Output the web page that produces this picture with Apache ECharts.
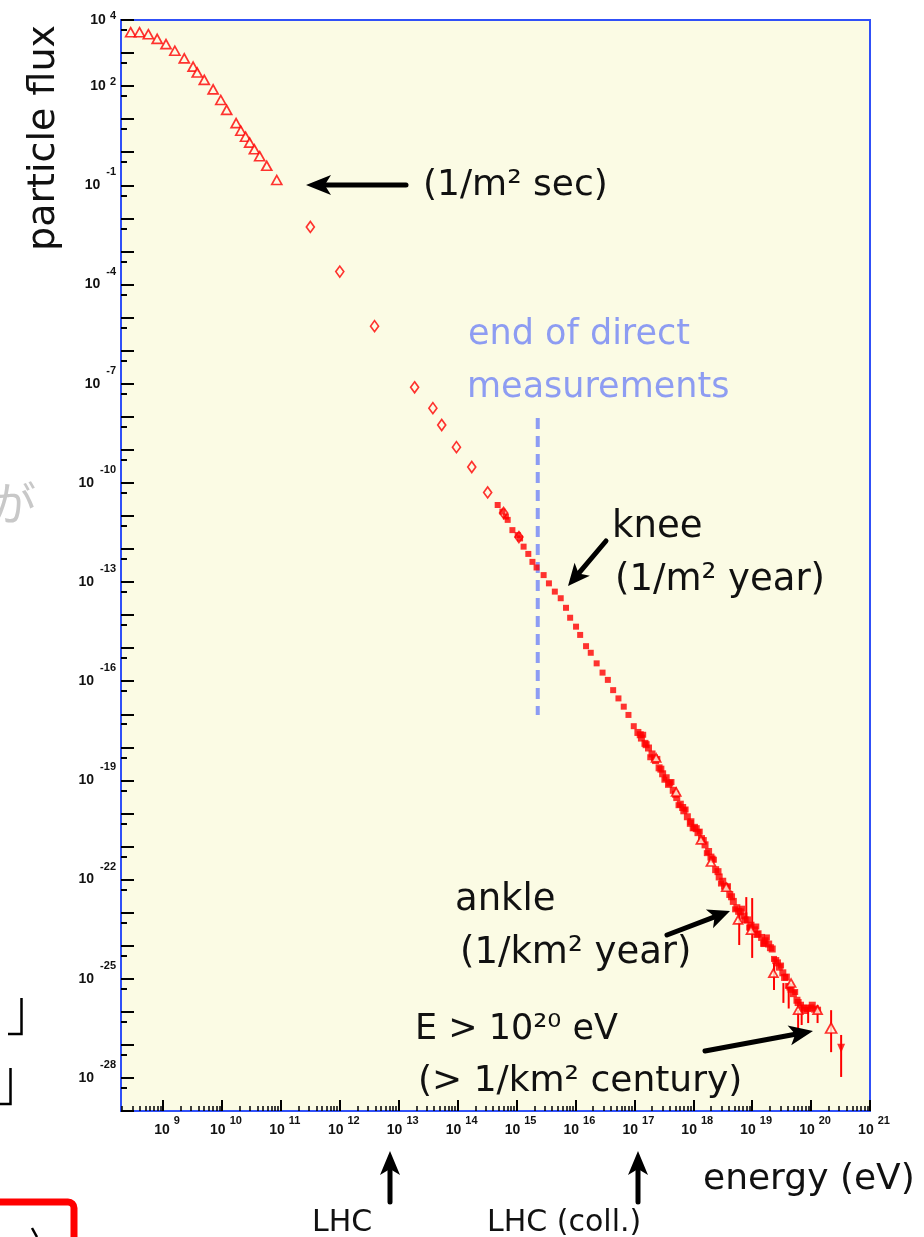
<!DOCTYPE html>
<html>
<head>
<meta charset="utf-8">
<script src="https://cdn.jsdelivr.net/npm/echarts@6/dist/echarts.min.js"></script>
<style>
  html, body { margin: 0; padding: 0; background: #ffffff; }
  #chart { width: 924px; height: 1237px; }
</style>
</head>
<body>
<div id="chart"></div>
<script>
// Cosmic-ray spectrum: all values are log10(energy / eV) and log10(flux)

// direct measurements (open triangles)
const directLogE = [8.45, 8.60, 8.75, 8.90, 9.05, 9.20, 9.36, 9.51, 9.58, 9.70, 9.85, 9.98,
                    10.08, 10.24, 10.32, 10.40, 10.47, 10.55, 10.64, 10.76, 10.93];
const directLogF = [3.63, 3.63, 3.57, 3.43, 3.27, 3.07, 2.84, 2.59, 2.41, 2.19, 1.90, 1.58,
                    1.28, 0.88, 0.65, 0.47, 0.29, 0.09, -0.12, -0.41, -0.84];

// balloon / satellite points (open diamonds)
const balloonLogE = [11.50, 12.00, 12.59, 13.27, 13.58, 13.73, 13.98, 14.24, 14.51, 14.78, 15.04];
const balloonLogF = [-2.26, -3.61, -5.26, -7.11, -7.74, -8.25, -8.92, -9.52, -10.29, -10.91, -11.64];

// air-shower array around the knee (small filled squares)
const kneeLogE = [14.68, 14.76, 14.82, 14.85, 14.93, 15.02, 15.06, 15.12, 15.20, 15.27, 15.34, 15.46,
                  15.55, 15.65, 15.75, 15.84, 15.91, 16.01, 16.08, 16.18, 16.26, 16.36, 16.46, 16.55,
                  16.64, 16.73, 16.82, 16.90, 16.99];
const kneeLogF = [-10.67, -10.87, -11.02, -11.12, -11.43, -11.58, -11.68, -11.93, -12.15, -12.39, -12.56, -12.79,
                  -13.04, -13.29, -13.49, -13.78, -14.08, -14.35, -14.60, -14.94, -15.14, -15.46, -15.74, -15.96,
                  -16.27, -16.52, -16.77, -17.02, -17.36];

// high-energy experiments, first group (filled squares)
const highALogE = [17.06, 17.12, 17.18, 17.24, 17.30, 17.36, 17.42, 17.48, 17.54, 17.60, 17.66, 17.72,
                   17.78, 17.84, 17.90, 17.96, 18.02, 18.08, 18.14, 18.20, 18.26, 18.32, 18.38, 18.44,
                   18.50, 18.56, 18.62, 18.68, 18.74, 18.80, 18.86, 18.92, 18.98, 19.04, 19.10, 19.16,
                   19.22, 19.28, 19.34, 19.40, 19.46, 19.52, 19.58, 19.64, 19.70, 19.76, 19.82, 19.88,
                   19.94, 20.00, 20.06, 20.11];
const highALogF = [-17.55, -17.72, -17.88, -18.02, -18.20, -18.40, -18.62, -18.80, -18.92, -19.08, -19.30, -19.52,
                   -19.72, -19.92, -20.10, -20.25, -20.42, -20.58, -20.76, -20.95, -21.15, -21.38, -21.70, -21.92,
                   -22.05, -22.25, -22.45, -22.66, -22.85, -22.98, -23.10, -23.22, -23.38, -23.52, -23.64, -23.75,
                   -23.85, -23.95, -24.10, -24.45, -24.65, -24.82, -24.95, -25.25, -25.45, -25.65, -25.80, -25.88,
                   -25.90, -25.88, -25.92, -25.95];

// high-energy experiments, second group (filled squares)
const highBLogE = [17.10, 17.20, 17.34, 17.45, 17.58, 17.70, 17.82, 17.95, 18.05, 18.17, 18.30, 18.42,
                   18.53, 18.65, 18.77, 18.88, 18.97, 19.08, 19.20, 19.31, 19.43, 19.55, 19.66, 19.78,
                   19.90, 20.02];
const highBLogF = [-17.62, -17.92, -18.32, -18.66, -19.12, -19.42, -19.82, -20.30, -20.46, -20.82, -21.32, -21.76,
                   -22.20, -22.52, -22.96, -23.22, -23.46, -23.66, -23.92, -24.06, -24.52, -24.96, -25.32, -25.72,
                   -25.96, -25.80];

// high-energy experiments, third group (filled squares, scattered either side)
const highDLogE = [17.15, 17.27, 17.39, 17.51, 17.63, 17.75, 17.87, 17.99, 18.11, 18.23, 18.35, 18.47,
                   18.59, 18.71, 18.83, 18.95, 19.07, 19.19, 19.25, 19.37, 19.49, 19.61, 19.73];
const highDLogF = [-17.62, -18.30, -18.35, -18.98, -19.05, -19.75, -19.88, -20.45, -20.55, -21.20, -21.40, -22.12,
                   -22.20, -22.90, -22.88, -23.45, -23.42, -23.95, -23.75, -24.40, -24.60, -25.22, -25.40];

// high-energy experiments, fourth group (open triangles)
const highCLogE = [17.37, 17.71, 18.13, 18.30, 18.56, 18.76, 18.98, 19.36, 19.66, 19.78, 20.11];
const highCLogF = [-18.32, -19.35, -20.80, -21.47, -22.23, -23.22, -23.53, -24.83, -25.13, -25.95, -25.95];

// highest-energy points
const topTriLogE = [20.34];
const topTriLogF = [-26.49];
const limitLogE = [20.51];
const limitLogF = [-27.10];

// error bars: [log10 E, low log10 flux, high log10 flux]
const errorBars = [
  [18.78, -23.98, -23.01], [18.90, -23.13, -22.53], [19.00, -24.37, -22.56],
  [19.37, -25.34, -24.52], [19.53, -25.73, -25.13], [19.62, -25.90, -25.20],
  [19.78, -26.49, -25.95], [19.84, -26.40, -25.80], [19.95, -26.34, -25.85],
  [20.11, -26.34, -25.79], [20.34, -27.22, -25.95], [20.51, -27.97, -26.70]
];

// end of direct measurements
const directEndLogE = 15.36;
const directEndLogF = [-8.04, -17.02];

// axis ranges and labelled decades
const xRange = [8.286, 21];
const yRange = [-29, 4];
const xLabelExps = [9, 10, 11, 12, 13, 14, 15, 16, 17, 18, 19, 20, 21];
const yLabelExps = [4, 2, -1, -4, -7, -10, -13, -16, -19, -22, -25, -28];

const RED = '#ff0000';
const BLUE_TEXT = '#8d9cf2';
const HAND = '"DejaVu Sans", sans-serif';
const TICK_FONT = '"Liberation Sans", Arial, sans-serif';

const zip = (a, b) => a.map((v, i) => [v, b[i]]);

// tick positions on the log10 axes
const xMajorTicks = [];
for (let d = 9; d <= 21; d++) xMajorTicks.push(d);
const xMinorTicks = [];
for (let d = 8; d <= 20; d++) {
  for (let m = 2; m <= 9; m++) {
    const v = d + Math.log10(m);
    if (v >= xRange[0] && v <= xRange[1]) xMinorTicks.push(+v.toFixed(4));
  }
}
const yMajorTicks = [];
for (let d = yRange[0]; d <= yRange[1]; d++) yMajorTicks.push(d);
const yMinorTicks = [];
for (let d = yRange[0]; d < yRange[1]; d++) yMinorTicks.push(+(d + Math.log10(5)).toFixed(4));

const labelRich = {
  s: { width: 8 },
  b: { fontFamily: TICK_FONT, fontWeight: 'bold', fontSize: 14, color: '#111' },
  ex: { fontFamily: TICK_FONT, fontWeight: 'bold', fontSize: 11, color: '#111', padding: [0, 0, 20, 4] },
  ey: { fontFamily: TICK_FONT, fontWeight: 'bold', fontSize: 11, color: '#111', padding: [0, 0, 26, 6] },
  ey2: { fontFamily: TICK_FONT, fontWeight: 'bold', fontSize: 11, color: '#111', padding: [0, 0, 8, 4] }
};

function arrow(x1, y1, x2, y2, width, headLen, headHalf) {
  const dx = x2 - x1, dy = y2 - y1;
  const len = Math.sqrt(dx * dx + dy * dy);
  const ux = dx / len, uy = dy / len;
  const px = -uy, py = ux;
  const bx = x2 - ux * headLen, by = y2 - uy * headLen;
  const nx = x2 - ux * headLen * 0.75, ny = y2 - uy * headLen * 0.75;
  return [
    { type: 'line', shape: { x1: x1, y1: y1, x2: nx, y2: ny }, style: { stroke: '#000', lineWidth: width, lineCap: 'round' }, z: 100 },
    { type: 'polygon', shape: { points: [[x2, y2], [bx + px * headHalf, by + py * headHalf], [nx, ny], [bx - px * headHalf, by - py * headHalf]] },
      style: { fill: '#000' }, z: 100 }
  ];
}

function note(text, x, y, size, color) {
  return {
    type: 'text', x: x, y: y, z: 100,
    style: { text: text, font: 'normal ' + size + 'px ' + HAND, fill: color || '#111', align: 'left', verticalAlign: 'middle' }
  };
}

const graphics = [].concat(
  arrow(406, 185, 306, 185, 5, 25, 10),
  arrow(606, 541, 568, 586, 5, 22, 10),
  arrow(667, 935, 730, 911, 5, 22, 10),
  arrow(705, 1051, 813, 1031, 5, 24, 10),
  arrow(390, 1202, 390, 1151, 5, 24, 10),
  arrow(638, 1202, 638, 1151, 5, 24, 10),
  [
    note('(1/m² sec)', 423, 186, 36),
    note('end of direct', 468, 335, 35, BLUE_TEXT),
    note('measurements', 467, 388, 35, BLUE_TEXT),
    note('knee', 612, 527, 37),
    note('(1/m² year)', 615, 580, 37),
    note('ankle', 455, 900, 37),
    note('(1/km² year)', 460, 953, 37),
    note('E > 10²⁰ eV', 415, 1030, 35),
    note('(> 1/km² century)', 418, 1082, 36),
    note('energy (eV)', 703, 1180, 36),
    note('LHC', 312, 1223, 30),
    note('LHC (coll.)', 487, 1223, 30),
    {
      type: 'text', x: 44, y: 138, rotation: Math.PI / 2, z: 100,
      style: { text: 'particle flux', font: 'normal 38px ' + HAND, fill: '#111', align: 'center', verticalAlign: 'middle' }
    },
    // leftovers of the neighbouring slide
    {
      type: 'text', x: -10, y: 503, z: 100,
      style: { text: 'が', font: 'normal 46px "Noto Sans CJK JP", sans-serif', fill: '#c8c8c8', align: 'left', verticalAlign: 'middle' }
    },
    { type: 'polyline', shape: { points: [[21.5, 998], [21.5, 1034], [8, 1034]] }, style: { stroke: '#000', lineWidth: 2.5, fill: null }, z: 100 },
    { type: 'polyline', shape: { points: [[10.5, 1068], [10.5, 1104], [0, 1104]] }, style: { stroke: '#000', lineWidth: 2.5, fill: null }, z: 100 },
    { type: 'rect', shape: { x: -10, y: 1202, width: 84, height: 60, r: 6 }, style: { stroke: '#ff0000', lineWidth: 7, fill: null }, z: 100 },
    { type: 'line', shape: { x1: 32, y1: 1228, x2: 37, y2: 1237 }, style: { stroke: '#000', lineWidth: 2.5 }, z: 100 }
  ]
);

const hollow = { color: '#fbfbe4', borderColor: RED, borderWidth: 1.7 };

function tickAxis(range, position, len, values, width) {
  return {
    type: 'value', min: range[0], max: range[1], position: position,
    axisLine: { show: false, onZero: false }, splitLine: { show: false },
    axisTick: { show: true, inside: true, length: len, customValues: values, lineStyle: { color: '#000', width: width } },
    axisLabel: { show: false }
  };
}

const xMain = tickAxis(xRange, 'bottom', 11, xMajorTicks, 2);
xMain.axisLabel = {
  show: true, customValues: xLabelExps, margin: 4,
  formatter: v => '{s|}{b|10}{ex|' + Math.round(v) + '}',
  rich: labelRich
};
const yMain = tickAxis(yRange, 'left', 13, yMajorTicks, 2);
yMain.axisLabel = {
  show: true, customValues: yLabelExps, margin: 5,
  formatter: v => {
    const n = Math.round(v);
    return '{b|10}{' + (n >= 2 ? 'ey2' : 'ey') + '|' + n + '}';
  },
  rich: labelRich
};

const option = {
  animation: false,
  backgroundColor: '#ffffff',
  grid: {
    left: 121, right: 54, top: 20, bottom: 126,
    show: true, backgroundColor: '#fbfbe4', borderColor: '#3050f8', borderWidth: 2,
    containLabel: false, outerBoundsMode: 'none'
  },
  xAxis: [xMain, tickAxis(xRange, 'bottom', 5, xMinorTicks, 1.5)],
  yAxis: [yMain, tickAxis(yRange, 'left', 6, yMinorTicks, 2)],
  series: [
    {
      type: 'line', data: directEndLogF.map(f => [directEndLogE, f]), symbol: 'none', z: 1,
      lineStyle: { color: '#8c9cf4', width: 4, type: [11, 7] }
    },
    {
      type: 'custom', data: errorBars, z: 2,
      renderItem: (params, api) => {
        const a = api.coord([api.value(0), api.value(1)]);
        const b = api.coord([api.value(0), api.value(2)]);
        return { type: 'line', shape: { x1: a[0], y1: a[1], x2: b[0], y2: b[1] }, style: { stroke: RED, lineWidth: 2 } };
      }
    },
    { type: 'scatter', data: zip(directLogE, directLogF), symbol: 'triangle', symbolSize: [10, 9], itemStyle: hollow, z: 3 },
    { type: 'scatter', data: zip(balloonLogE, balloonLogF), symbol: 'diamond', symbolSize: [8, 11], itemStyle: hollow, z: 3 },
    { type: 'scatter', data: zip(kneeLogE, kneeLogF), symbol: 'rect', symbolSize: 6, itemStyle: { color: RED }, z: 4 },
    { type: 'scatter', data: zip(highALogE, highALogF), symbol: 'rect', symbolSize: 7, itemStyle: { color: RED }, z: 4 },
    { type: 'scatter', data: zip(highBLogE, highBLogF), symbol: 'rect', symbolSize: 7, itemStyle: { color: RED }, z: 4 },
    { type: 'scatter', data: zip(highDLogE, highDLogF), symbol: 'rect', symbolSize: 6, itemStyle: { color: RED }, z: 4 },
    { type: 'scatter', data: zip(highCLogE, highCLogF), symbol: 'triangle', symbolSize: [9, 8], itemStyle: hollow, z: 5 },
    { type: 'scatter', data: zip(topTriLogE, topTriLogF), symbol: 'triangle', symbolSize: [11, 10], itemStyle: hollow, z: 5 },
    { type: 'scatter', data: zip(limitLogE, limitLogF), symbol: 'triangle', symbolRotate: 180, symbolSize: [8, 9], itemStyle: { color: RED }, z: 5 }
  ],
  graphic: graphics
};

const chart = echarts.init(document.getElementById('chart'), null, { renderer: 'canvas' });
chart.setOption(option);
</script>
</body>
</html>
